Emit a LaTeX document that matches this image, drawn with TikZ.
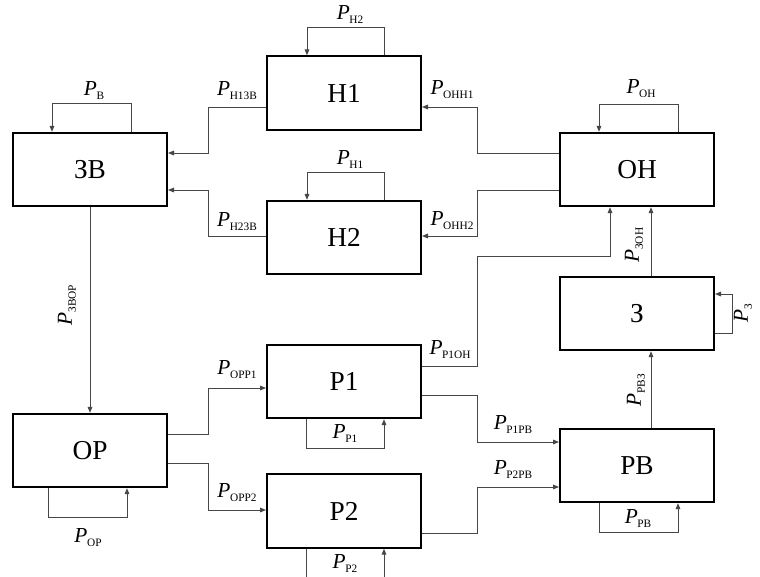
\documentclass[tikz,border=0pt]{standalone}
\usepackage{fontspec}
\setmainfont{Liberation Serif}
\usetikzlibrary{arrows.meta}
\newcommand{\Plbl}[1]{\textit{P}\kern-0.3pt\raisebox{-3pt}{\fontsize{8.5}{9}\selectfont #1}}
\begin{document}
\begin{tikzpicture}[x=0.75pt,y=-0.75pt,
  blk/.style={draw=black,line width=1.5pt,minimum width=115.5pt,minimum height=55pt,inner sep=0pt,font=\fontsize{20.5}{24}\selectfont},
  conn/.style={draw=black!72,line width=0.75pt},
  arr/.style={conn,-{Triangle[length=4.5pt,width=3.5pt]}},
  lbl/.style={inner sep=0pt,font=\fontsize{16}{18}\selectfont}]
\useasboundingbox[fill=white] (0,0) rectangle (760,576);
% blocks
\node[blk] (ZB) at (90,169.5) {ЗВ};
\node[blk] (H1) at (344,93) {Н1};
\node[blk] (H2) at (344,237.5) {Н2};
\node[blk] (OH) at (637,169.5) {ОН};
\node[blk] (Z)  at (637,313.5) {З};
\node[blk] (OP) at (90,450.5) {ОР};
\node[blk] (P1) at (344,381.5) {Р1};
\node[blk] (P2) at (344,511) {Р2};
\node[blk] (PB) at (637,465.5) {РВ};
% self loops
\draw[arr] (ZB.north -| 131,0) |- (52,103) -- (ZB.north -| 52,0);
\draw[arr] (H1.north -| 384,0) |- (307,27) -- (H1.north -| 307,0);
\draw[arr] (H2.north -| 384,0) |- (307,172) -- (H2.north -| 307,0);
\draw[arr] (OH.north -| 678,0) |- (599,104) -- (OH.north -| 599,0);
\draw[arr] (OP.south -| 48,0) |- (127,517) -- (OP.south -| 127,0);
\draw[arr] (P1.south -| 306,0) |- (384,448) -- (P1.south -| 384,0);
\draw[arr] (PB.south -| 599,0) |- (678,532) -- (PB.south -| 678,0);
\coordinate (p2a) at (306,578);
\coordinate (p2b) at (384,578);
\draw[conn] (P2.south -| 306,0) -- (p2a);
\draw[arr] (p2b) -- (P2.south -| 384,0);
\draw[arr] (Z.east |- 0,333) -| (732,294) -- (Z.east |- 0,294);
% connections
\draw[arr] (H1.west |- 0,107) -| (208,153) -- (ZB.east |- 0,153);
\draw[arr] (H2.west |- 0,236) -| (208,190) -- (ZB.east |- 0,190);
\draw[arr] (OH.west |- 0,153) -| (477,107) -- (H1.east |- 0,107);
\draw[arr] (OH.west |- 0,190) -| (477,236) -- (H2.east |- 0,236);
\draw[arr] (ZB.south) -- (OP.north);
\draw[arr] (Z.north -| 651,0) -- (OH.south -| 651,0);
\draw[arr] (PB.north -| 651,0) -- (Z.south -| 651,0);
\draw[arr] (P1.east |- 0,366) -| (477,256) -| (OH.south -| 610,0);
\draw[arr] (P1.east |- 0,395) -| (477,442) -- (PB.west |- 0,442);
\draw[arr] (P2.east |- 0,533) -| (477,487) -- (PB.west |- 0,487);
\draw[arr] (OP.east |- 0,434) -| (208,388) -- (P1.west |- 0,388);
\draw[arr] (OP.east |- 0,463) -| (208,510) -- (P2.west |- 0,510);
% labels
\node[lbl] (lB) at (94,91) {\Plbl{В}};
\node[lbl] (lH2) at (350,15) {\Plbl{Н2}};
\node[lbl] (lH1) at (350,160) {\Plbl{Н1}};
\node[lbl] (lH13B) at (237,91) {\Plbl{Н13В}};
\node[lbl] (lH23B) at (237,222) {\Plbl{Н23В}};
\node[lbl] (lOHH1) at (452,90) {\Plbl{ОНН1}};
\node[lbl] (lOHH2) at (452,221) {\Plbl{ОНН2}};
\node[lbl] (lOH) at (641,89) {\Plbl{ОН}};
\node[lbl,rotate=90] (l3BOP) at (67,305) {\Plbl{ЗВОР}};
\node[lbl,rotate=90] (l3OH) at (634,245) {\Plbl{ЗОН}};
\node[lbl,rotate=90] (lPB3) at (636,390) {\Plbl{РВЗ}};
\node[lbl,rotate=90] (l3) at (743,313) {\Plbl{З}};
\node[lbl] (lP1OH) at (450,350) {\Plbl{Р1ОН}};
\node[lbl] (lP1PB) at (513,425) {\Plbl{Р1РВ}};
\node[lbl] (lP2PB) at (513,470) {\Plbl{Р2РВ}};
\node[lbl] (lPB) at (638,519) {\Plbl{РВ}};
\node[lbl] (lOPP1) at (237,370) {\Plbl{ОРР1}};
\node[lbl] (lOPP2) at (237,493) {\Plbl{ОРР2}};
\node[lbl] (lOP) at (88,538) {\Plbl{ОР}};
\node[lbl] (lP1) at (345,434) {\Plbl{Р1}};
\node[lbl] (lP2) at (345,564) {\Plbl{Р2}};
\end{tikzpicture}
\end{document}
